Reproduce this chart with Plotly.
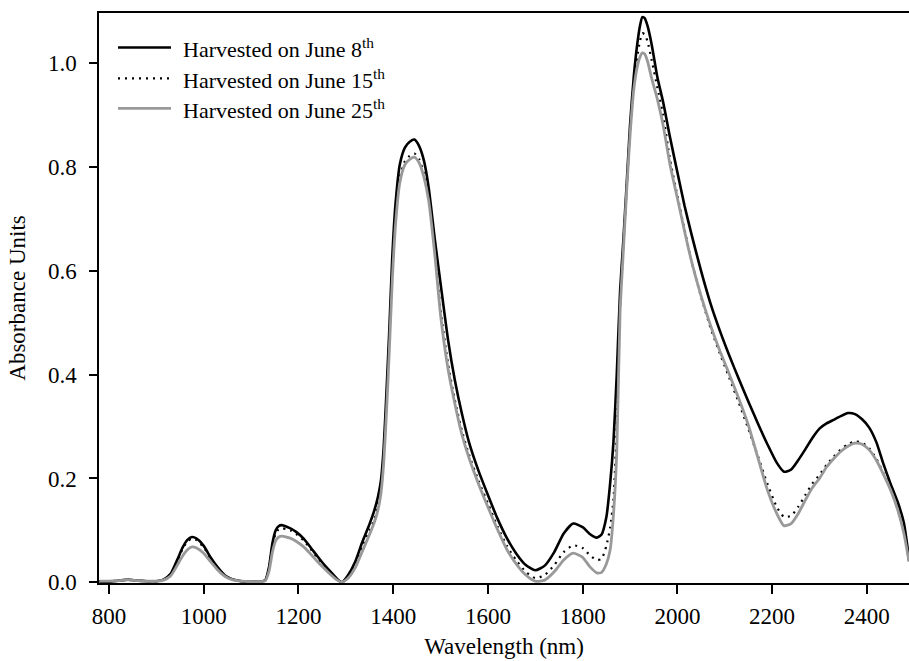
import plotly.graph_objects as go

wavelength = [780, 800, 820, 840, 860, 880, 900, 915, 930, 945, 955, 965, 975, 985, 1000, 1015, 1030, 1045, 1060, 1080,
              1100, 1120, 1130, 1138, 1145, 1152, 1158, 1165, 1175, 1185, 1195, 1210, 1225, 1240, 1255, 1270, 1282, 1292,
              1305, 1320, 1335, 1350, 1360, 1368, 1374, 1380, 1386, 1392, 1398, 1405, 1414, 1425, 1435, 1445, 1455, 1465,
              1475, 1488, 1500, 1516, 1530, 1545, 1560, 1580, 1600, 1620, 1640, 1660, 1680, 1700, 1720, 1740, 1760, 1780,
              1800, 1815, 1830, 1840, 1850, 1858, 1865, 1872, 1879, 1886, 1893, 1900, 1908, 1915, 1921, 1926, 1931, 1937,
              1946, 1958, 1970, 1985, 2000, 2015, 2030, 2050, 2070, 2090, 2110, 2130, 2150, 2170, 2190, 2210, 2225, 2240,
              2255, 2270, 2285, 2300, 2315, 2330, 2345, 2360, 2375, 2390, 2405, 2420, 2435, 2450, 2465, 2478, 2489]

june8 = [0.001, 0.001, 0.003, 0.005, 0.003, 0.002, 0.002, 0.005, 0.016, 0.045, 0.066, 0.081, 0.087, 0.084, 0.070, 0.047,
         0.028, 0.013, 0.006, 0.002, 0.001, 0.001, 0.004, 0.030, 0.075, 0.100, 0.108, 0.110, 0.107, 0.103, 0.097, 0.085,
         0.068, 0.050, 0.033, 0.018, 0.006, 0.000, 0.014, 0.040, 0.078, 0.112, 0.138, 0.165, 0.195, 0.260, 0.370, 0.490,
         0.625, 0.730, 0.805, 0.838, 0.849, 0.853, 0.840, 0.812, 0.760, 0.660, 0.576, 0.466, 0.390, 0.325, 0.270, 0.215,
         0.168, 0.123, 0.085, 0.055, 0.033, 0.023, 0.032, 0.058, 0.094, 0.113, 0.106, 0.093, 0.086, 0.092, 0.125, 0.190,
         0.270, 0.400, 0.560, 0.660, 0.768, 0.880, 0.975, 1.035, 1.072, 1.089, 1.087, 1.072, 1.035, 0.972, 0.925, 0.855,
         0.790, 0.726, 0.670, 0.600, 0.537, 0.484, 0.436, 0.391, 0.348, 0.306, 0.266, 0.230, 0.213, 0.217, 0.235, 0.256,
         0.278, 0.296, 0.306, 0.313, 0.320, 0.326, 0.324, 0.314, 0.298, 0.270, 0.228, 0.190, 0.155, 0.115, 0.045]

june15 = [0.002, 0.002, 0.003, 0.005, 0.003, 0.002, 0.002, 0.005, 0.015, 0.043, 0.063, 0.078, 0.084, 0.081, 0.067, 0.045,
          0.027, 0.012, 0.005, 0.002, 0.001, 0.001, 0.004, 0.028, 0.070, 0.094, 0.102, 0.104, 0.102, 0.099, 0.093, 0.081,
          0.065, 0.047, 0.031, 0.016, 0.005, 0.000, 0.012, 0.035, 0.070, 0.100, 0.120, 0.150, 0.180, 0.245, 0.350, 0.470,
          0.600, 0.705, 0.780, 0.812, 0.822, 0.826, 0.815, 0.787, 0.742, 0.640, 0.525, 0.420, 0.352, 0.292, 0.246, 0.196,
          0.152, 0.108, 0.070, 0.042, 0.020, 0.008, 0.014, 0.033, 0.058, 0.071, 0.066, 0.052, 0.043, 0.045, 0.070, 0.105,
          0.160, 0.300, 0.530, 0.650, 0.760, 0.870, 0.960, 1.010, 1.043, 1.058, 1.056, 1.042, 1.005, 0.952, 0.900, 0.812,
          0.745, 0.680, 0.618, 0.550, 0.490, 0.440, 0.393, 0.345, 0.295, 0.243, 0.190, 0.145, 0.126, 0.128, 0.145, 0.168,
          0.190, 0.207, 0.226, 0.242, 0.256, 0.266, 0.271, 0.269, 0.258, 0.238, 0.210, 0.180, 0.142, 0.097, 0.040]

june25 = [0.002, 0.002, 0.003, 0.005, 0.003, 0.002, 0.002, 0.004, 0.012, 0.034, 0.050, 0.062, 0.068, 0.066, 0.056, 0.039,
          0.023, 0.011, 0.005, 0.002, 0.001, 0.001, 0.003, 0.022, 0.058, 0.080, 0.087, 0.089, 0.087, 0.084, 0.079, 0.069,
          0.055, 0.040, 0.026, 0.013, 0.004, 0.000, 0.008, 0.028, 0.060, 0.092, 0.115, 0.140, 0.170, 0.230, 0.330, 0.450,
          0.580, 0.690, 0.770, 0.805, 0.815, 0.819, 0.808, 0.780, 0.735, 0.630, 0.515, 0.410, 0.345, 0.285, 0.240, 0.190,
          0.145, 0.102, 0.063, 0.035, 0.014, 0.002, 0.004, 0.020, 0.043, 0.056, 0.048, 0.030, 0.018, 0.019, 0.035, 0.062,
          0.130, 0.250, 0.520, 0.640, 0.755, 0.860, 0.950, 0.992, 1.012, 1.020, 1.018, 1.004, 0.970, 0.930, 0.880, 0.802,
          0.740, 0.677, 0.618, 0.552, 0.495, 0.445, 0.400, 0.353, 0.302, 0.240, 0.178, 0.132, 0.109, 0.113, 0.132, 0.158,
          0.182, 0.200, 0.222, 0.238, 0.252, 0.262, 0.268, 0.266, 0.255, 0.235, 0.208, 0.178, 0.140, 0.095, 0.040]

x_ticks = [800, 1000, 1200, 1400, 1600, 1800, 2000, 2200, 2400]
y_ticks = [0.0, 0.2, 0.4, 0.6, 0.8, 1.0]
legend_labels = ["Harvested on June 8<sup>th</sup>", "Harvested on June 15<sup>th</sup>", "Harvested on June 25<sup>th</sup>"]

FONT = "Liberation Serif"
FS = 23
FS_LEG = 22
W, H = 909, 661
ML, MR, MT, MB = 99, 0, 12.5, 78

styles = [
    dict(color="#000000", width=2.6, dash="solid"),
    dict(color="#000000", width=2.2, dash="2px,5px"),
    dict(color="#999999", width=2.8, dash="solid"),
]

fig = go.Figure()
for vals, st, lab in zip([june8, june15, june25], styles, legend_labels):
    fig.add_trace(go.Scatter(x=wavelength, y=vals, mode="lines", name=lab, showlegend=False,
                             line=dict(color=st["color"], width=st["width"], dash=st["dash"],
                                       shape="spline", smoothing=0.6)))

# legend drawn manually (line samples + labels)
pw = W - ML - MR
ph = H - MT - MB
def px2paper_x(px):
    return (px - ML) / pw
def px2paper_y(py):
    return (H - MB - py) / ph

rows_y = [47, 78, 108]
for ry, st, lab in zip(rows_y, styles, legend_labels):
    fig.add_shape(type="line", xref="paper", yref="paper",
                  x0=px2paper_x(118), x1=px2paper_x(171), y0=px2paper_y(ry), y1=px2paper_y(ry),
                  line=dict(color=st["color"], width=st["width"], dash=st["dash"]))
    fig.add_annotation(xref="paper", yref="paper", x=px2paper_x(181), y=px2paper_y(ry + 1),
                       xanchor="left", yanchor="middle", text=lab, showarrow=False,
                       font=dict(family=FONT, size=FS_LEG, color="#000000"))

fig.update_layout(
    width=W, height=H,
    margin=dict(l=ML, r=MR, t=MT, b=MB, pad=0),
    paper_bgcolor="white", plot_bgcolor="white",
    font=dict(family=FONT, size=FS, color="#000000"),
    showlegend=False,
)
fig.update_xaxes(range=[778.9, 2489], tickvals=x_ticks, ticktext=[str(v) for v in x_ticks],
                 showgrid=False, zeroline=False, showline=True, linecolor="black", linewidth=1.5,
                 mirror=True, ticks="outside", ticklen=9, tickwidth=1.5, tickcolor="black",
                 tickfont=dict(family=FONT, size=FS), ticklabelstandoff=3,
                 title=dict(text="Wavelength (nm)", font=dict(family=FONT, size=FS), standoff=10))
fig.update_yaxes(range=[-0.0015, 1.097], tickvals=y_ticks, ticktext=["%.1f" % v for v in y_ticks],
                 showgrid=False, zeroline=False, showline=True, linecolor="black", linewidth=1.5,
                 mirror=False, ticks="outside", ticklen=8, tickwidth=1.5, tickcolor="black",
                 tickfont=dict(family=FONT, size=FS), ticklabelstandoff=8,
                 title=dict(text="Absorbance Units", font=dict(family=FONT, size=FS), standoff=16))

fig.write_html("out.html")
